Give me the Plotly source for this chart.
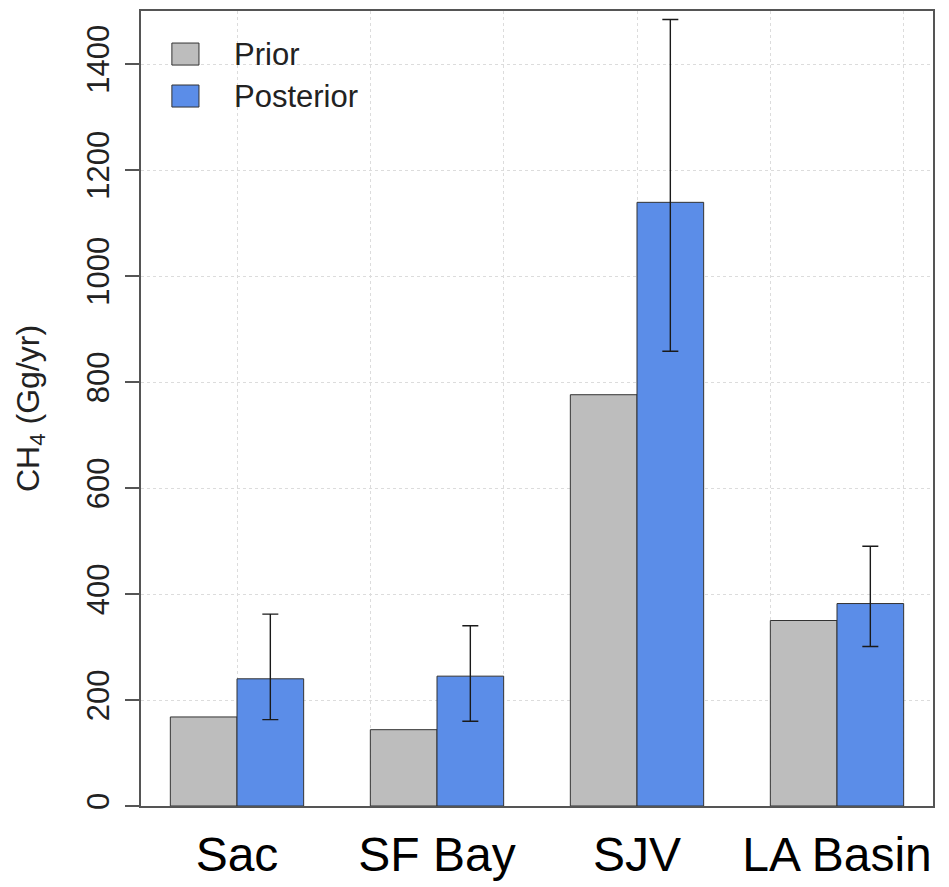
import plotly.graph_objects as go

# Regional CH4 emissions, prior vs posterior (Gg/yr)
regions = ["Sac", "SF Bay", "SJV", "LA Basin"]
prior = [168, 144, 776, 350]
posterior = [240, 245, 1139, 382]
post_upper = [362, 340, 1484, 490]
post_lower = [163, 160, 858, 301]
y_ticks = [0, 200, 400, 600, 800, 1000, 1200, 1400]

# barplot-style layout: two unit-width bars per group, one unit gap between groups
group_start = [1 + 3 * i for i in range(len(regions))]
x_prior = [g + 0.5 for g in group_start]
x_post = [g + 1.5 for g in group_start]
x_centre = [g + 1.0 for g in group_start]

FONT = "Liberation Sans, Arial, Helvetica, sans-serif"
GREY = "#bdbdbd"
BLUE = "#5b8de8"
EDGE = "#333333"
GRID = "#dcdcdc"

fig = go.Figure()
fig.add_trace(go.Bar(
    x=x_prior, y=prior, width=1.0, name="Prior",
    marker=dict(color=GREY, line=dict(color=EDGE, width=1)),
    showlegend=False,
))
fig.add_trace(go.Bar(
    x=x_post, y=posterior, width=1.0, name="Posterior",
    marker=dict(color=BLUE, line=dict(color=EDGE, width=1)),
    error_y=dict(
        type="data", symmetric=False,
        array=[u - v for u, v in zip(post_upper, posterior)],
        arrayminus=[v - l for v, l in zip(posterior, post_lower)],
        color="#1a1a1a", thickness=1.4, width=8,
    ),
    showlegend=False,
))

fig.update_layout(
    width=949, height=887,
    margin=dict(l=141, r=16, t=11, b=81),
    paper_bgcolor="white", plot_bgcolor="white",
    barmode="overlay",
    font=dict(family=FONT, color="black"),
)

fig.update_xaxes(
    range=[0.56, 12.44], automargin=False,
    tickvals=x_centre, ticktext=regions,
    tickfont=dict(size=48, family=FONT, color="black"),
    ticks="", ticklabelstandoff=6, showgrid=False, zeroline=False,
    showline=True, linecolor="#555555", linewidth=1.5, mirror=True,
    minor=dict(tickvals=[2, 4, 6, 8, 10, 12], showgrid=True,
               gridcolor=GRID, griddash="dot", gridwidth=1, ticks=""),
)
fig.update_yaxes(
    range=[0, 1500], automargin=False,
    tickvals=y_ticks, ticktext=[str(v) for v in y_ticks],
    tickangle=-90,
    tickfont=dict(size=31, family=FONT, color="#222222"),
    ticks="outside", ticklen=14, tickwidth=1.5, tickcolor="#555555",
    ticklabelstandoff=4,
    showgrid=True, gridcolor=GRID, griddash="dot", gridwidth=1,
    zeroline=False,
    showline=True, linecolor="#555555", linewidth=1.5, mirror=True,
    title=dict(text="CH<sub>4</sub> (Gg/yr)",
               font=dict(size=32, family=FONT, color="#222222"),
               standoff=32),
)

# Legend drawn as boxes with labels in the top-left corner of the plot
legend_items = [("Prior", GREY, 0.9597, 0.932, 0.9459),
                ("Posterior", BLUE, 0.9069, 0.8792, 0.893)]
for label, colour, y0, y1, yc in legend_items:
    fig.add_shape(type="rect", xref="paper", yref="paper",
                  x0=0.039, x1=0.0732, y0=y1, y1=y0,
                  fillcolor=colour, line=dict(color=EDGE, width=1))
    fig.add_annotation(xref="paper", yref="paper", x=0.115, y=yc,
                       text=label, showarrow=False, xanchor="left",
                       yanchor="middle",
                       font=dict(size=31, family=FONT, color="#222222"))

fig.write_html("out.html")
